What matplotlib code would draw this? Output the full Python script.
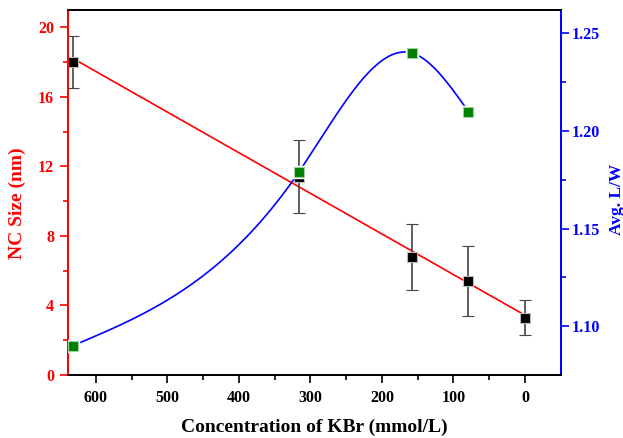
import numpy as np
import matplotlib.pyplot as plt

# data
kbr = [632, 316, 158, 79, 0]
nc_size = [18.0, 11.4, 6.8, 5.4, 3.3]
nc_err = [1.5, 2.1, 1.9, 2.0, 1.0]

kbr_lw = [632, 316, 158, 79]
avg_lw = [1.09, 1.179, 1.24, 1.21]

plt.rcParams['font.family'] = ['Liberation Serif', 'DejaVu Serif']
plt.rcParams['font.weight'] = 'bold'


def natural_spline(x, y, n=300):
    # natural cubic spline through the points (x increasing)
    x = np.asarray(x, float)
    y = np.asarray(y, float)
    h = np.diff(x)
    m = len(x)
    A = np.zeros((m, m))
    b = np.zeros(m)
    A[0, 0] = A[-1, -1] = 1
    for i in range(1, m - 1):
        A[i, i - 1] = h[i - 1]
        A[i, i] = 2 * (h[i - 1] + h[i])
        A[i, i + 1] = h[i]
        b[i] = 6 * ((y[i + 1] - y[i]) / h[i] - (y[i] - y[i - 1]) / h[i - 1])
    M = np.linalg.solve(A, b)
    xs = np.linspace(x[0], x[-1], n)
    k = np.clip(np.searchsorted(x, xs) - 1, 0, m - 2)
    t0 = x[k + 1] - xs
    t1 = xs - x[k]
    hk = h[k]
    ys = (M[k] * t0 ** 3 + M[k + 1] * t1 ** 3) / (6 * hk) \
        + (y[k] / hk - M[k] * hk / 6) * t0 + (y[k + 1] / hk - M[k + 1] * hk / 6) * t1
    return xs, ys


fig = plt.figure(figsize=(6.23, 4.38), dpi=100)
ax = fig.add_axes([0.109, 0.144, 0.791, 0.833])

# linear fit of the size data
p = np.polyfit(kbr, nc_size, 1)
xf = np.array([kbr[0], kbr[-1]])
ax.plot(xf, np.polyval(p, xf), color='red', lw=1.2, zorder=2)
ax.errorbar(kbr, nc_size, yerr=nc_err, fmt='s', color='black', ms=6.5,
            mec='#bbbbbb', mew=0.8, ecolor='#444444', elinewidth=1.2,
            capsize=4, capthick=1.2, zorder=3)

ax.set_xlim(639, -50)
ax.set_ylim(0, 21)
ax.set_xticks([600, 500, 400, 300, 200, 100, 0])
ax.set_xticks([550, 450, 350, 250, 150, 50], minor=True)
ax.set_yticks([0, 4, 8, 12, 16, 20])
ax.set_yticks([2, 6, 10, 14, 18], minor=True)

ax.set_xlabel('Concentration of KBr (mmol/L)', fontsize=14, fontweight='bold', labelpad=9)
ax.set_ylabel('NC Size (nm)', fontsize=14, fontweight='bold', color='red', labelpad=10)
ax.yaxis.set_label_coords(-0.085, 0.47)

ax.tick_params(axis='x', which='major', length=6, width=1.2, labelsize=11.5, pad=5, top=False)
ax.tick_params(axis='x', which='minor', length=3.5, width=1.2, top=False)
ax.tick_params(axis='y', which='major', length=6, width=1.2, labelsize=11.5, colors='red', pad=4)
ax.tick_params(axis='y', which='minor', length=3.5, width=1.2, colors='red')
for lab in ax.get_xticklabels() + ax.get_yticklabels():
    lab.set_fontweight('bold')

ax2 = ax.twinx()
xs, ys = natural_spline(kbr_lw[::-1], avg_lw[::-1])
ax2.plot(xs, ys, color='blue', lw=1.2, zorder=2)
ax2.plot(kbr_lw, avg_lw, 's', color='#008000', ms=6.5, mec='white', mew=2.5, zorder=3)
ax2.plot(kbr_lw, avg_lw, 's', color='#008000', ms=6.5, mec='#a0d0a0', mew=0.8, zorder=4)

ax2.set_ylim(1.075, 1.262)
ax2.set_yticks([1.10, 1.15, 1.20, 1.25])
ax2.set_yticks([1.125, 1.175, 1.225], minor=True)
ax2.set_yticklabels(['1.10', '1.15', '1.20', '1.25'])
ax2.set_ylabel('Avg. L/W', fontsize=12.5, fontweight='bold', color='blue')
ax2.yaxis.set_label_coords(1.097, 0.48)
ax2.tick_params(axis='y', which='major', length=6, width=1.2, labelsize=11.5, colors='blue', pad=2)
ax2.tick_params(axis='y', which='minor', length=3.5, width=1.2, colors='blue')
for lab in ax2.get_yticklabels():
    lab.set_fontweight('bold')

for a in (ax, ax2):
    a.spines['left'].set_color('red')
    a.spines['right'].set_color('blue')
    a.spines['top'].set_color('black')
    a.spines['bottom'].set_color('black')
    for s in a.spines.values():
        s.set_linewidth(1.3)

fig.savefig('out.png', dpi=100)
